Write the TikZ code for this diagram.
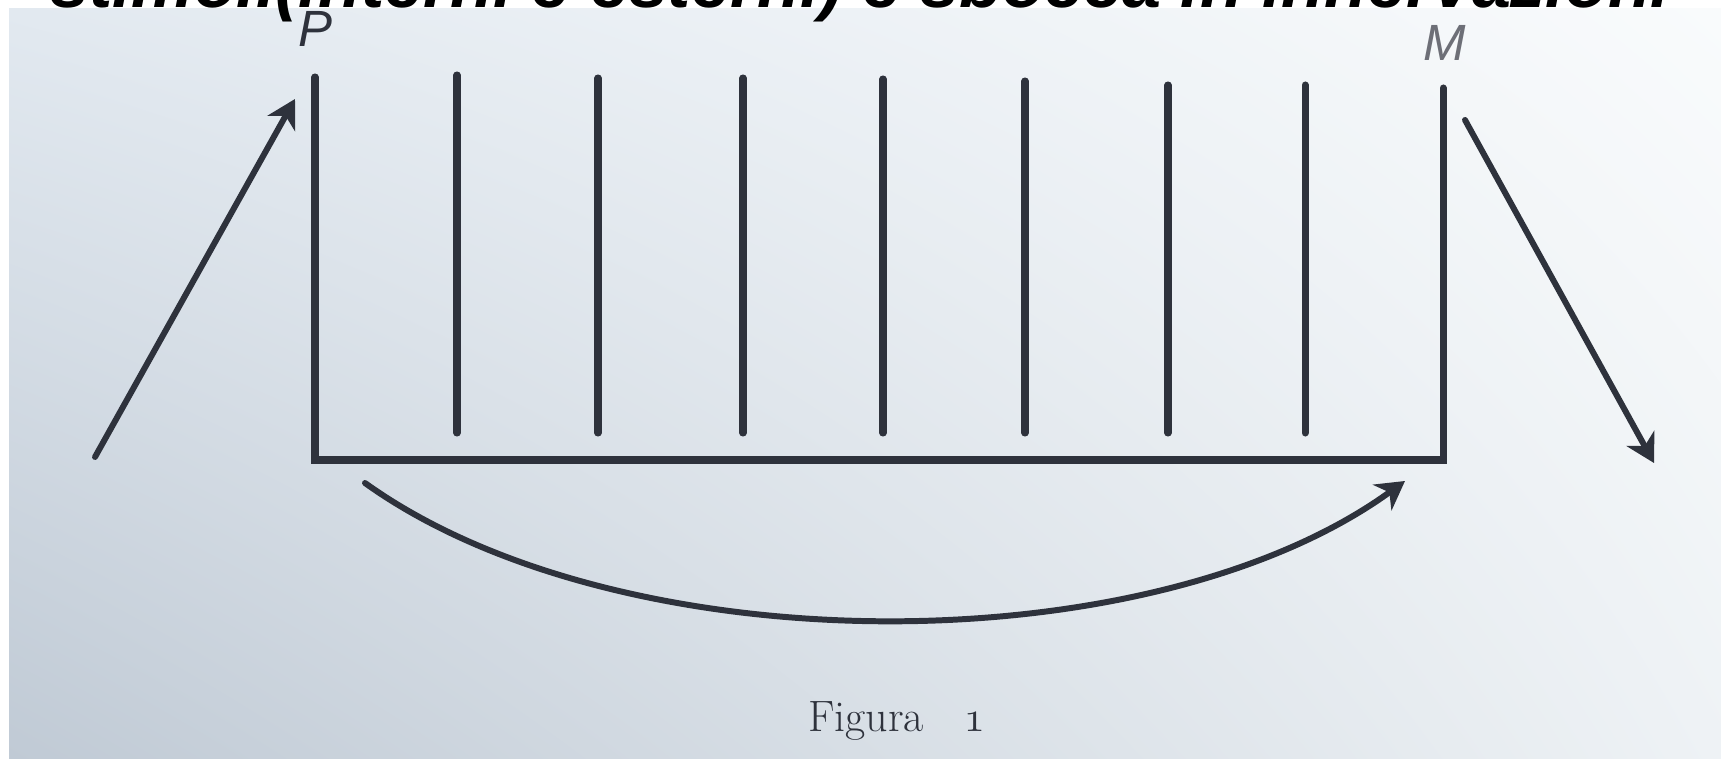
\documentclass[tikz,border=0pt]{standalone}
\usepackage{fontspec}
\setsansfont{Liberation Sans}
\usepackage{graphicx}
\usetikzlibrary{arrows.meta, shadings}

\definecolor{ink}{RGB}{46,50,60}
\definecolor{paperTL}{RGB}{226,233,240}
\definecolor{paperTR}{RGB}{249,251,252}
\definecolor{paperBL}{RGB}{192,202,213}
\definecolor{paperBR}{RGB}{238,242,245}

\begin{document}
\begin{tikzpicture}[
            x=0.02cm, y=-0.02cm,
            wall/.style={color=ink, line width=4pt, line cap=round},
            pointer/.style={color=ink, line width=3.4pt, line cap=round, -{Stealth[length=16pt, width=18pt, inset=5pt]}},
            endlabel/.style={font=\sffamily\itshape\fontsize{29}{29}\selectfont, color=ink, inner sep=0pt},
            caption/.style={font=\fontsize{25}{25}\selectfont, color=ink, inner sep=0pt}
        ]
            \useasboundingbox (0,0) rectangle (1721,759);

            % paper
            \fill[white] (0,0) rectangle (1721,759);
            \shade[upper left=paperTL, upper right=paperTR, lower left=paperBL, lower right=paperBR] (9,9) rectangle (1721,759);

            % heading (cut off at the top)
            \node[anchor=base west, inner sep=0pt] (heading) at (50,8) {\resizebox{32.4cm}{!}{\sffamily\bfseries\itshape stimoli(interni e esterni) e sbocca in innervazioni}};

            % outer walls and base
            \coordinate (pTop) at (315,77);
            \coordinate (pBase) at (315,460);
            \coordinate (mBase) at (1443,460);
            \coordinate (mTop) at (1443,88);
            \draw[wall] (pTop) -- (pBase) -- (mBase) -- (mTop);

            % inner lines
            \foreach \x/\t in {457/75, 598/78, 743/78, 883/79, 1025/81, 1168/85, 1305/85}{
                \draw[wall] (\x, \t) -- (\x, 433);
            }

            % labels
            \node[endlabel] (P) at (315,29) {P};
            \node[endlabel, color=ink!70] (M) at (1445,43) {M};

            % incoming and outgoing arrows
            \coordinate (inStart) at (95,457);
            \coordinate (inEnd) at (295,99);
            \draw[pointer] (inStart) -- (inEnd);
            \coordinate (outStart) at (1465,120);
            \coordinate (outEnd) at (1654,463);
            \draw[pointer] (outStart) -- (outEnd);

            % arc below
            \coordinate (arcStart) at (365,483);
            \coordinate (arcEnd) at (1405,481);
            \draw[pointer] (arcStart) .. controls (620,666) and (1150,666) .. (arcEnd);

            % caption
            \node[caption, anchor=base west] (fig) at (808,732) {Figura\hspace{0.9em}$\mathnormal{1}$};

        \end{tikzpicture}
\end{document}
